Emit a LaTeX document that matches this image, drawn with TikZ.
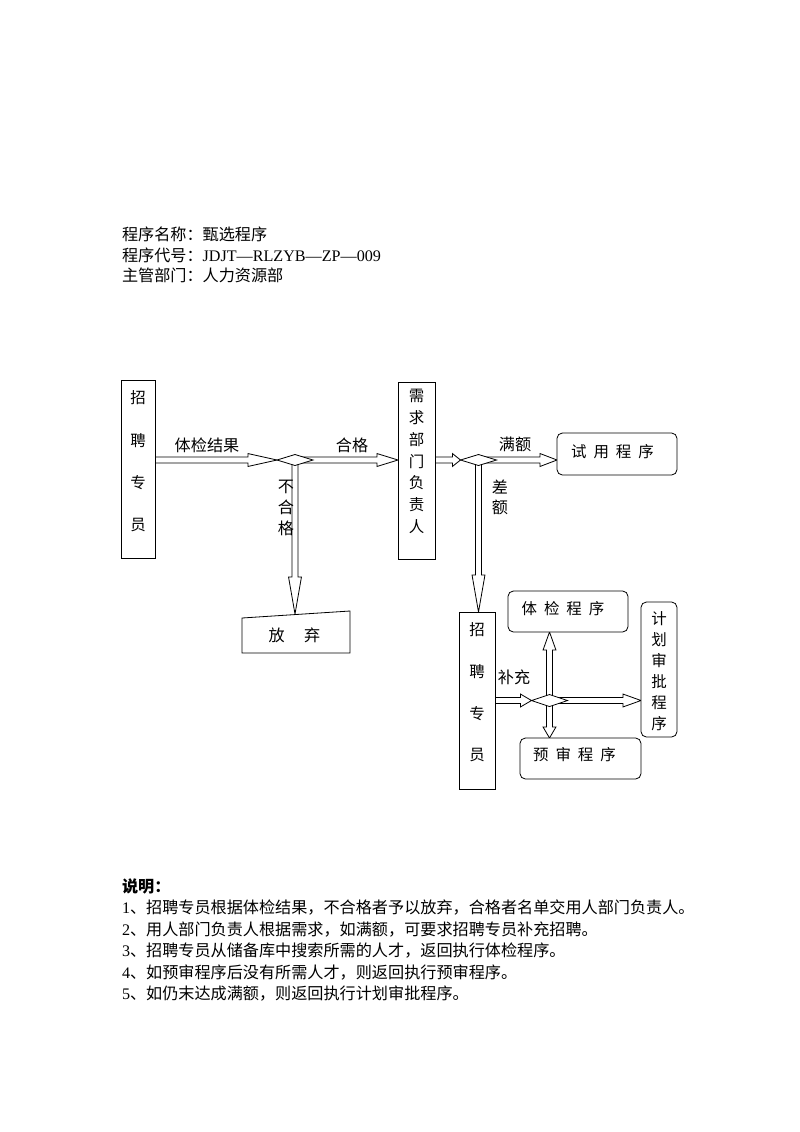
\documentclass[tikz,border=0pt]{standalone}
\usepackage{fontspec}
\setmainfont{Liberation Serif}
\newfontfamily\cjk{Noto Sans CJK SC}
\usetikzlibrary{shapes.geometric,calc}
\pgfdeclarelayer{bg}
\pgfsetlayers{bg,main}
\newcommand\arsw{2.2pt}
\newcommand\arhw{4.8pt}
\begin{document}
\begin{tikzpicture}[x=0.744pt,y=-0.744pt,
  every node/.style={inner sep=0pt, outer sep=0pt},
  txt/.style={font=\cjk\fontsize{12}{14}\selectfont},
  lbl/.style={font=\cjk\fontsize{12}{14}\selectfont},
  boxtxt/.style={font=\cjk\fontsize{11.5}{13}\selectfont},
  sqbox/.style={draw, line width=0.6pt, fill=white},
  rbox/.style={draw, line width=0.6pt, rounded corners=4pt, fill=white},
  dia/.style={diamond, draw, line width=0.6pt, fill=white, minimum width=36*0.744pt, minimum height=11*0.744pt},
  arrline/.style={draw, line width=0.6pt, fill=white},
  rarr/.style={to path={let \p1=(\tikztostart), \p2=(\tikztotarget) in
    (\x1,\y1+\arsw) -- (\x2-#1,\y1+\arsw) -- (\x2-#1,\y1+\arhw) -- (\x2,\y1) -- (\x2-#1,\y1-\arhw) -- (\x2-#1,\y1-\arsw) -- (\x1,\y1-\arsw) -- cycle}},
  darr/.style={to path={let \p1=(\tikztostart), \p2=(\tikztotarget) in
    (\x1+\arsw,\y1) -- (\x1+\arsw,\y2+#1) -- (\x1+\arhw,\y2+#1) -- (\x1,\y2) -- (\x1-\arhw,\y2+#1) -- (\x1-\arsw,\y2+#1) -- (\x1-\arsw,\y1) -- cycle}},
  uarr/.style={to path={let \p1=(\tikztostart), \p2=(\tikztotarget) in
    (\x1+\arsw,\y1) -- (\x1+\arsw,\y2-#1) -- (\x1+\arhw,\y2-#1) -- (\x1,\y2) -- (\x1-\arhw,\y2-#1) -- (\x1-\arsw,\y2-#1) -- (\x1-\arsw,\y1) -- cycle}},
]
\begin{pgfonlayer}{bg}
\fill[white] (0,0) rectangle (800,1132);
\end{pgfonlayer}
\useasboundingbox (0,0) rectangle (800,1132);

% header
\node[txt, anchor=west] (h1) at (122,234) {程序名称：甄选程序};
\node[txt, anchor=west] (h2) at (122,255) {程序代号：{\rmfamily JDJT—RLZYB—ZP—009}};
\node[txt, anchor=west] (h3) at (122,275.5) {主管部门：人力资源部};

% boxes
\node[sqbox, minimum width=34*0.744pt, minimum height=178*0.744pt] (A) at (138,469) {};
\node[boxtxt, align=center, font=\cjk\fontsize{11.5}{31.5}\selectfont] (At) at (138,461.5) {招\\聘\\专\\员};

\node[sqbox, minimum width=37*0.744pt, minimum height=177*0.744pt] (B) at (416.5,470.5) {};
\node[boxtxt, align=center, font=\cjk\fontsize{11.5}{16.2}\selectfont] (Bt) at (416.5,461.5) {需\\求\\部\\门\\负\\责\\人};

\node[rbox, minimum width=120*0.744pt, minimum height=42*0.744pt] (C) at (617,454) {};
\node[boxtxt] (Ct) at (612.5,452) {试\hspace{0.45em}用\hspace{0.45em}程\hspace{0.45em}序};

\node[sqbox, minimum width=36*0.744pt, minimum height=177*0.744pt] (E) at (477,700.5) {};
\node[boxtxt, align=center, font=\cjk\fontsize{11.5}{31}\selectfont] (Et) at (477,692.5) {招\\聘\\专\\员};

\node[rbox, minimum width=120*0.744pt, minimum height=41*0.744pt] (F) at (568,611.5) {};
\node[boxtxt] (Ft) at (563,609) {体\hspace{0.45em}检\hspace{0.45em}程\hspace{0.45em}序};

\node[rbox, minimum width=36*0.744pt, minimum height=135*0.744pt] (G) at (659,669.5) {};
\node[boxtxt, align=center, font=\cjk\fontsize{11.5}{15.6}\selectfont] (Gt) at (659,671.5) {计\\划\\审\\批\\程\\序};

\node[rbox, minimum width=121*0.744pt, minimum height=41*0.744pt] (H) at (580.5,758.5) {};
\node[boxtxt] (Ht) at (574.5,755) {预\hspace{0.45em}审\hspace{0.45em}程\hspace{0.45em}序};

% discard box
\draw[line width=0.6pt, fill=white] (242,618) -- (350,611) -- (350,653) -- (242,653) -- cycle;
\coordinate (Ptop) at (296,614);
\node[lbl] (Pt) at (294.5,635) {放\hspace{1.2em}弃};

% diamonds
\node[dia] (D1) at (295,460) {};
\node[dia] (D2) at (478.5,460) {};
\node[dia, minimum height=12*0.744pt] (D3) at (549.5,700.5) {};

% labels
\node[lbl] (L1) at (207,445) {体检结果};
\node[lbl] (L2) at (352,445) {合格};
\node[lbl, align=center, font=\cjk\fontsize{12}{15.6}\selectfont] (L3) at (286,508) {不\\合\\格};
\node[lbl] (L4) at (515,444) {满额};
\node[lbl, align=center, font=\cjk\fontsize{12}{15}\selectfont] (L5) at (500,497) {差\\额};
\node[lbl] (L6) at (514,677) {补充};

% arrows
\begin{pgfonlayer}{bg}
\draw[arrline] (A.east |- D1.west) to[rarr=21.6pt] (D1.west);
\draw[arrline] (D1.center) to[rarr=15.6pt] (B.west);
\draw[arrline] (B.east |- D2.west) to[rarr=6pt] (D2.west);
\draw[arrline] (D2.center) to[rarr=12.6pt] (C.west);
\draw[arrline] (D1.center) to[darr=27.5pt] (Ptop);
\draw[arrline] (D2.center) to[darr=27.5pt] (E.north);
\draw[arrline] (E.east |- D3.west) to[rarr=8.2pt] (D3.west);
\draw[arrline] (D3.center) to[uarr=13.4pt] (F.south);
\draw[arrline] (D3.center) to[rarr=13.4pt] (G.west);
\draw[arrline] (D3.center) to[darr=8.2pt] (H.north);
\end{pgfonlayer}

% notes
\node[txt, anchor=west] (n0) at (122,886) {\bfseries 说明：};
\node[txt, anchor=west] (n1) at (122,908) {{\rmfamily 1}、招聘专员根据体检结果，不合格者予以放弃，合格者名单交用人部门负责人。};
\node[txt, anchor=west] (n2) at (122,929.5) {{\rmfamily 2}、用人部门负责人根据需求，如满额，可要求招聘专员补充招聘。};
\node[txt, anchor=west] (n3) at (122,951) {{\rmfamily 3}、招聘专员从储备库中搜索所需的人才，返回执行体检程序。};
\node[txt, anchor=west] (n4) at (122,972.5) {{\rmfamily 4}、如预审程序后没有所需人才，则返回执行预审程序。};
\node[txt, anchor=west] (n5) at (122,994) {{\rmfamily 5}、如仍末达成满额，则返回执行计划审批程序。};
\end{tikzpicture}
\end{document}
